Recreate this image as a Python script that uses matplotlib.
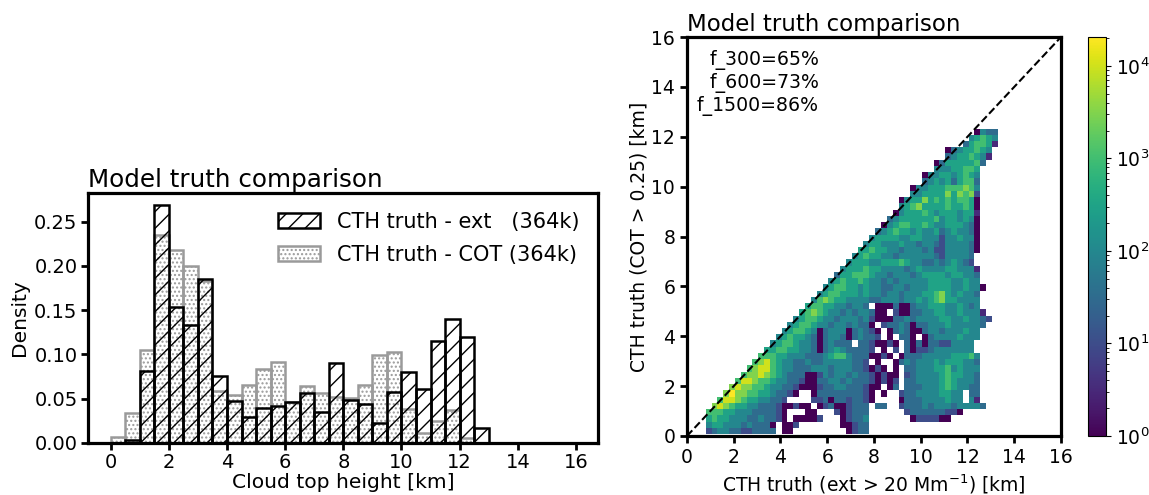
import numpy as np
import matplotlib
matplotlib.use("Agg")
import matplotlib.pyplot as plt
from matplotlib.colors import LogNorm
from matplotlib.patches import Patch

plt.rcParams['font.family'] = ['DejaVu Sans']
plt.rcParams['hatch.linewidth'] = 1.0

# ---------------- histogram data (density per 0.5 km bin) ----------------
bin_left = np.arange(0.0, 13.0, 0.5)
bin_width = 0.5
density_ext = [0.0, 0.0034, 0.081, 0.269, 0.154, 0.133, 0.185, 0.076, 0.047,
               0.029, 0.039, 0.042, 0.046, 0.057, 0.035, 0.090, 0.049, 0.044,
               0.023, 0.058, 0.080, 0.061, 0.115, 0.140, 0.120, 0.017]
density_cot = [0.0064, 0.0336, 0.105, 0.235, 0.218, 0.200, 0.183, 0.059, 0.054,
               0.065, 0.084, 0.091, 0.046, 0.064, 0.057, 0.052, 0.051, 0.066,
               0.099, 0.103, 0.038, 0.011, 0.025, 0.037, 0.006, 0.0]
label_ext = "CTH truth - ext   (364k)"
label_cot = "CTH truth - COT (364k)"

# ---------------- 2-D histogram data ----------------
# grid edges of the joint histogram (km)
x_edge0, y_edge0, cell = 0.8, 0.08, 0.25
n_cols, n_rows = 50, 49
# count level per cell: '.' = no data, digit L -> 10**(L/2) clouds ('9' -> 2e4)
row_start = [0, 0, 0, 0, 1, 2, 3, 4, 5, 6, 7, 8, 9, 10, 11, 12, 13, 14, 15, 16,
             17, 18, 19, 20, 21, 22, 23, 24, 25, 26, 27, 28, 29, 30, 31, 32, 33,
             33, 35, 35, 37, 37, 39, 39, 41, 41, 44, 45, 46]
row_levels = [
    "234433223333.00.........0233",
    "455444343330.002.......00233",
    "56554443343320.00002...02334.......0222200",
    "66655444333320...00...202333......2333333220",
    "78765544333200200.023002333.33..233343444344443",
    "688765544332....22303323320....03334444544.41",
    "7977665543320..03333333320.0..23344445544.33",
    "78776654433200023344333200.03.3334445654433",
    "6887665443320033443433320202.3344445654443",
    "677876543330024344343320200.2344445655443",
    "678865443334443444332020.0.3344455645444",
    "67865443343344444332.0..034344454555443",
    "66655444333456643330020.03334444455564",
    "5566554430345433332.0.2.302234444444.",
    "45665443034333.3320020.303033224444.",
    "456554303443034332.0.330.0344445444",
    "45665403444034320.0343003443444544",
    "456654434434330.233430334445444443",
    "4566544344434200033434444554454432",
    "567654434344300.2003344554454441",
    "56655443443.000300344555445434",
    "46765544443344434454567554444",
    "4566555454434434445567545443",
    "4566554544334434445555445440",
    "45655654434344444555544544",
    "3556665443444345555455443",
    "455565544443454444554441",
    "4555445556544334345432",
    "456554434444443244443",
    "556554434443422444430",
    "45544454434432444430",
    "4555544554442445440",
    "345655454453454430",
    "04566556544555430",
    "3455555564554540",
    "045556545554551",
    "45675555655650",
    "04557565656650",
    "445555757672",
    "044555666764",
    "3454535663",
    "0445545654",
    "44455665",
    "035555563",
    "34556541",
    "03455654",
    "356651",
    "45654",
    "0433",
]
frac_text = "f_300=65%\nf_600=73%\nf_1500=86%"

# ---------------- build the count grid ----------------
counts = np.full((n_rows, n_cols), np.nan)
for k, (start, levels) in enumerate(zip(row_start, row_levels)):
    for i, ch in enumerate(levels):
        j = start + i
        if ch == '.' or j >= n_cols:
            continue
        lev = int(ch)
        counts[k, j] = 2.0e4 if lev == 9 else 10 ** (lev / 2.0)
x_edges = x_edge0 + cell * np.arange(n_cols + 1)
y_edges = y_edge0 + cell * np.arange(n_rows + 1)

# ---------------- figure ----------------
fig = plt.figure(figsize=(11.49, 4.95), dpi=100)
ax1 = fig.add_axes([0.0766, 0.1051, 0.4439, 0.505])
ax2 = fig.add_axes([0.5979, 0.1192, 0.3255, 0.806])
cax = fig.add_axes([0.9465, 0.1192, 0.0165, 0.806])

spine_w = 2.3

# left: density histograms
ax1.bar(bin_left, density_cot, width=bin_width, align='edge', facecolor='none',
        edgecolor='#9a9a9a', hatch='....', linewidth=1.8)
ax1.bar(bin_left, density_ext, width=bin_width, align='edge', facecolor='none',
        edgecolor='black', hatch='//', linewidth=1.8)
ax1.set_xlim(-0.78, 16.76)
ax1.set_xticks(np.arange(0, 17, 2))
ax1.set_yticks([0.0, 0.05, 0.10, 0.15, 0.20, 0.25])
ax1.yaxis.set_major_formatter(matplotlib.ticker.FormatStrFormatter('%.2f'))
ax1.set_xlabel("Cloud top height [km]", fontsize=14.6, labelpad=0.5)
ax1.set_ylabel("Density", fontsize=14.5)
ax1.set_title("Model truth comparison", loc='left', fontsize=17.7, pad=4)
handles = [Patch(facecolor='white', edgecolor='black', hatch='//', linewidth=1.8),
           Patch(facecolor='white', edgecolor='#9a9a9a', hatch='....', linewidth=1.8)]
ax1.legend(handles, [label_ext, label_cot], loc='upper right', frameon=False,
           fontsize=15, handlelength=2.0, handleheight=0.75, borderaxespad=0.5,
           labelspacing=0.62)
ax1.tick_params(labelsize=14, pad=2.5)

# right: joint histogram
mesh = ax2.pcolormesh(x_edges, y_edges, np.ma.masked_invalid(counts),
                      cmap='viridis', norm=LogNorm(vmin=1, vmax=2.05e4))
ax2.axline((0, 0), slope=1, color='black', linestyle='--', linewidth=1.5)
ax2.set_xlim(0, 16)
ax2.set_ylim(0, 16)
ax2.set_xticks(np.arange(0, 17, 2))
ax2.set_yticks(np.arange(0, 17, 2))
ax2.set_xlabel("CTH truth (ext > 20 Mm$^{-1}$) [km]", fontsize=13.5)
ax2.set_ylabel("CTH truth (COT > 0.25) [km]", fontsize=13.5, labelpad=2)
ax2.set_title("Model truth comparison", loc='left', fontsize=16.5, pad=4)
ax2.text(0.353, 0.968, frac_text, transform=ax2.transAxes, ha='right', va='top',
         multialignment='right', fontsize=13.6)
ax2.tick_params(labelsize=13.5)

cb = fig.colorbar(mesh, cax=cax)
cb.ax.tick_params(labelsize=13.5)

for ax in (ax1, ax2):
    for s in ax.spines.values():
        s.set_linewidth(spine_w)
    ax.tick_params(width=2, length=5, direction='out')

fig.savefig("out.png", dpi=100)
